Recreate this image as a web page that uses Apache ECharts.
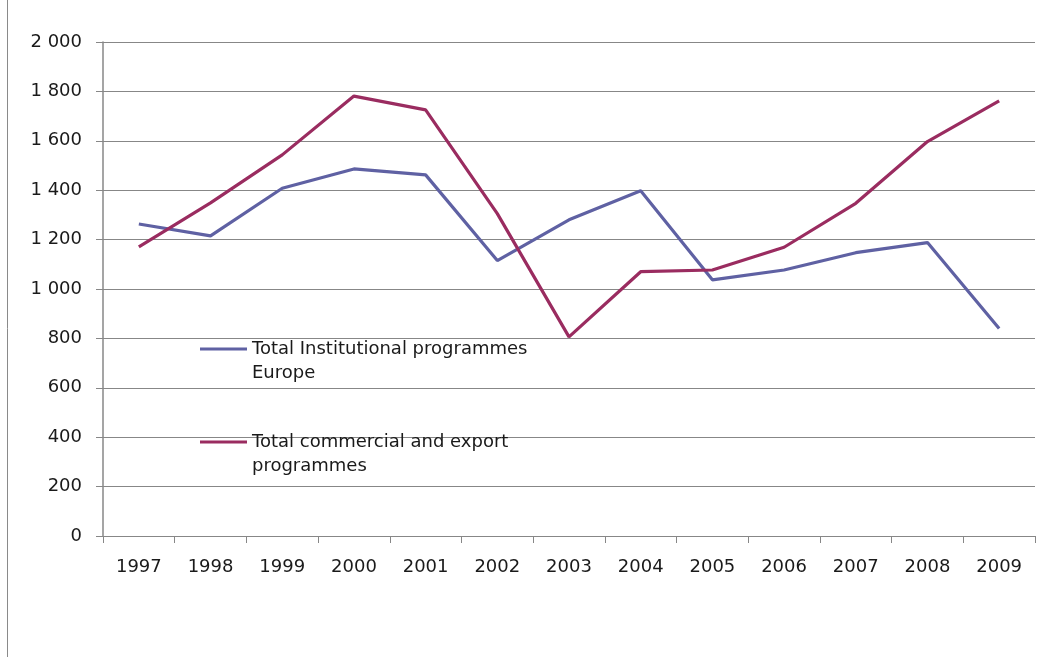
<!DOCTYPE html>
<html>
<head>
<meta charset="utf-8">
<script src="https://cdn.jsdelivr.net/npm/echarts@6/dist/echarts.min.js"></script>
<style>
  html, body { margin: 0; padding: 0; background: #ffffff; }
  #chart { width: 1064px; height: 657px; }
</style>
</head>
<body>
<div id="chart"></div>
<script>
// Years on the category axis
const years = ['1997', '1998', '1999', '2000', '2001', '2002', '2003', '2004', '2005', '2006', '2007', '2008', '2009'];

// Series names and values
const institutionalName = 'Total Institutional programmes Europe';
const institutionalValues = [1263, 1215, 1408, 1486, 1462, 1115, 1280, 1398, 1037, 1077, 1147, 1188, 840];

const commercialName = 'Total commercial and export programmes';
const commercialValues = [1171, 1349, 1543, 1781, 1725, 1305, 806, 1070, 1077, 1169, 1347, 1597, 1762];

// Legend labels broken over two lines; a leading blank line keeps the
// swatch level with the first line of text
const legendLines = {
  [institutionalName]: '\u00a0\nTotal Institutional programmes\nEurope',
  [commercialName]: '\u00a0\nTotal commercial and export\nprogrammes'
};

const FONT = '"DejaVu Sans", sans-serif';
const AXIS_GREY = '#878787';

const chart = echarts.init(document.getElementById('chart'), null, { renderer: 'canvas' });

chart.setOption({
  backgroundColor: '#ffffff',
  animation: false,
  grid: { left: 103, right: 29, top: 42, bottom: 121, containLabel: false },
  legend: {
    orient: 'vertical',
    left: 200,
    top: 313,
    itemGap: 21,
    itemWidth: 47,
    itemHeight: 3,
    icon: 'rect',
    padding: 0,
    data: [institutionalName, commercialName],
    formatter: name => legendLines[name],
    textStyle: {
      fontFamily: FONT,
      fontSize: 18,
      color: '#1a1a1a',
      lineHeight: 24
    }
  },
  xAxis: {
    type: 'category',
    data: years,
    boundaryGap: true,
    axisLine: { lineStyle: { color: AXIS_GREY, width: 1 } },
    axisTick: { show: true, alignWithLabel: false, length: 7, lineStyle: { color: AXIS_GREY } },
    axisLabel: { fontFamily: FONT, fontSize: 18, color: '#1a1a1a', margin: 22 },
    splitLine: { show: false }
  },
  yAxis: {
    type: 'value',
    min: 0,
    max: 2000,
    interval: 200,
    axisLine: { show: true, lineStyle: { color: AXIS_GREY, width: 1.5 } },
    axisTick: { show: true, length: 7, lineStyle: { color: AXIS_GREY } },
    axisLabel: {
      fontFamily: FONT,
      fontSize: 18,
      color: '#1a1a1a',
      margin: 21,
      formatter: v => String(v).replace(/\B(?=(\d{3})+(?!\d))/g, ' ')
    },
    splitLine: { show: true, lineStyle: { color: AXIS_GREY, width: 1 } }
  },
  series: [
    {
      name: institutionalName,
      type: 'line',
      data: institutionalValues,
      symbol: 'none',
      color: '#5f61a3',
      lineStyle: { width: 3.2, color: '#5f61a3' }
    },
    {
      name: commercialName,
      type: 'line',
      data: commercialValues,
      symbol: 'none',
      color: '#9a2c60',
      lineStyle: { width: 3.2, color: '#9a2c60' }
    }
  ],
  graphic: [
    {
      type: 'line',
      shape: { x1: 7.5, y1: 0, x2: 7.5, y2: 657 },
      style: { stroke: '#8a8a8a', lineWidth: 1 },
      silent: true
    }
  ]
});
</script>
</body>
</html>
